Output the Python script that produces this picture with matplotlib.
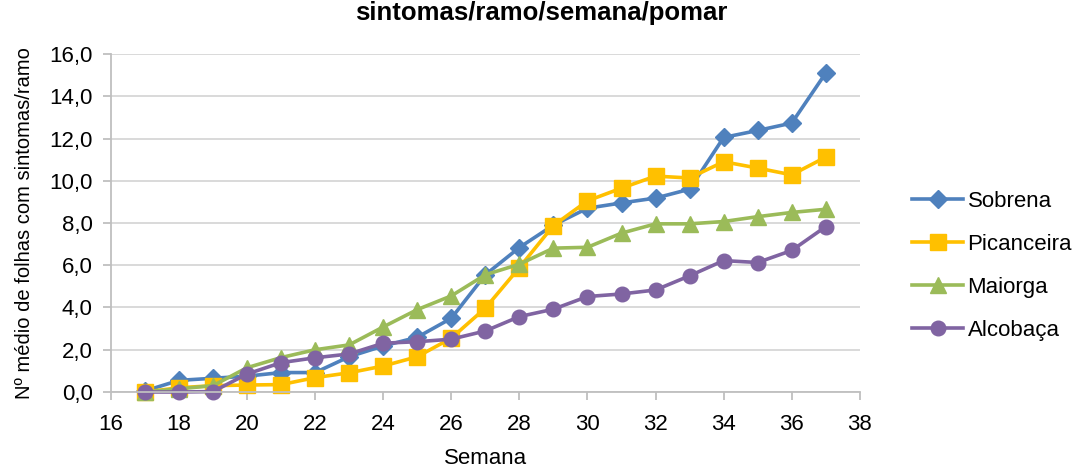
import matplotlib
matplotlib.use("Agg")
import matplotlib.pyplot as plt

weeks = list(range(17, 38))
sobrena = [0.05, 0.55, 0.65, 0.75, 0.92, 0.92, 1.67, 2.18, 2.59, 3.49, 5.55, 6.84, 7.9, 8.7, 8.95, 9.18, 9.6, 12.05, 12.38, 12.73, 15.1]
picanceira = [0.0, 0.2, 0.3, 0.33, 0.35, 0.68, 0.91, 1.23, 1.67, 2.55, 3.97, 5.89, 7.88, 9.05, 9.65, 10.22, 10.13, 10.9, 10.6, 10.28, 11.12]
maiorga = [0.0, 0.15, 0.3, 1.15, 1.63, 2.0, 2.23, 3.08, 3.9, 4.55, 5.55, 6.05, 6.81, 6.85, 7.52, 7.96, 7.96, 8.07, 8.3, 8.5, 8.65]
alcobaca = [0.0, 0.0, 0.02, 0.85, 1.39, 1.62, 1.8, 2.31, 2.38, 2.5, 2.89, 3.57, 3.92, 4.52, 4.64, 4.83, 5.5, 6.22, 6.13, 6.7, 7.83]

series_names = ["Sobrena", "Picanceira", "Maiorga", "Alcobaça"]
colors = ["#4f81bd", "#ffc000", "#9bbb59", "#8064a2"]
markers = ["D", "s", "^", "o"]
msizes = [9.5, 12, 12, 10.5]

xticks = list(range(16, 39, 2))
yticks = [0, 2, 4, 6, 8, 10, 12, 14, 16]
ytick_labels = ["0,0", "2,0", "4,0", "6,0", "8,0", "10,0", "12,0", "14,0", "16,0"]

plt.rcParams['font.family'] = ['Liberation Sans', 'DejaVu Sans']

fig = plt.figure(figsize=(10.87, 4.68), dpi=100)
ax = fig.add_axes([0.102, 0.1624, 0.689, 0.7222])

for vals, name, c, m, ms in zip([sobrena, picanceira, maiorga, alcobaca], series_names, colors, markers, msizes):
    ax.plot(weeks, vals, color=c, marker=m, markersize=ms, linewidth=2.6, label=name,
            markeredgecolor=c, clip_on=False)

ax.set_xlim(16, 38)
ax.set_ylim(0, 16)
ax.set_xticks(xticks)
ax.set_yticks(yticks)
ax.set_yticklabels(ytick_labels)
ax.tick_params(axis='both', labelsize=16, colors='#bfbfbf', labelcolor='#000000', length=6, width=1.3, direction='out')
ax.tick_params(axis='x', pad=10)
ax.tick_params(axis='y', pad=7)
ax.yaxis.grid(True, color='#d9d9d9', linewidth=1.4)
ax.set_axisbelow(True)
for s in ['top', 'right']:
    ax.spines[s].set_visible(False)
for s in ['left', 'bottom']:
    ax.spines[s].set_color('#bfbfbf')
    ax.spines[s].set_linewidth(1.3)

ax.set_xlabel("Semana", fontsize=16, labelpad=9)
ax.set_ylabel("Nº médio de folhas com sintomas/ramo", fontsize=14.5, labelpad=11)

fig.text(0.498, 1 - 20 / 468, "sintomas/ramo/semana/pomar", ha='center', va='baseline',
         fontsize=18.5, fontweight='bold')

leg = ax.legend(loc='center left', bbox_to_anchor=(1.043, 0.373), frameon=False, fontsize=16,
                handlelength=2.3, labelspacing=1.0, handletextpad=0.2)

fig.savefig("out.png", dpi=100)
